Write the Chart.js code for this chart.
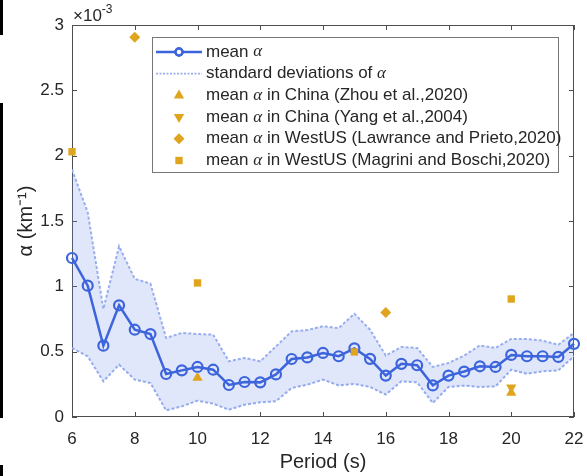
<!DOCTYPE html>
<html>
<head>
<meta charset="utf-8">
<script src="https://cdn.jsdelivr.net/npm/chart.js@4.4.1/dist/chart.umd.min.js"></script>
<style>
  html, body { margin: 0; padding: 0; background: #fff; }
  #wrap { position: relative; width: 587px; height: 476px; }
  .edge { position: absolute; left: 0; width: 3px; background: #000; }
</style>
</head>
<body>
<div id="wrap">
  <canvas id="chart" width="587" height="476"></canvas>
  <div class="edge" style="top:0;height:35px"></div>
  <div class="edge" style="top:103px;height:315px"></div>
  <div class="edge" style="top:465px;height:11px"></div>
</div>
<script>
// Periods (s) and attenuation values, in units of 1e-3 km^-1
const periods = [6, 6.5, 7, 7.5, 8, 8.5, 9, 9.5, 10, 10.5, 11, 11.5, 12, 12.5, 13, 13.5,
  14, 14.5, 15, 15.5, 16, 16.5, 17, 17.5, 18, 18.5, 19, 19.5, 20, 20.5, 21, 21.5, 22];
const meanAlpha = [1.217, 1.005, 0.546, 0.855, 0.668, 0.635, 0.329, 0.357, 0.383, 0.362, 0.245,
  0.268, 0.265, 0.326, 0.444, 0.456, 0.49, 0.465, 0.525, 0.445, 0.317, 0.407, 0.396, 0.242,
  0.317, 0.348, 0.388, 0.383, 0.475, 0.465, 0.465, 0.46, 0.56];
const upperAlpha = [1.894, 1.567, 0.827, 1.306, 1.057, 1.021, 0.605, 0.643, 0.635, 0.63, 0.426,
  0.452, 0.426, 0.54, 0.655, 0.665, 0.695, 0.68, 0.79, 0.668, 0.47, 0.536, 0.528, 0.383,
  0.413, 0.47, 0.548, 0.528, 0.597, 0.597, 0.584, 0.553, 0.643];
const lowerAlpha = [0.528, 0.464, 0.273, 0.40, 0.286, 0.26, 0.05, 0.081, 0.125, 0.102, 0.056,
  0.094, 0.112, 0.12, 0.222, 0.247, 0.286, 0.242, 0.253, 0.23, 0.171, 0.273, 0.265, 0.107,
  0.23, 0.24, 0.23, 0.234, 0.362, 0.33, 0.35, 0.357, 0.464];

// Published values
const zhouPeriods = [10, 20];
const zhouAlpha = [0.30, 0.185];
const yangPeriods = [20];
const yangAlpha = [0.226];
const lawrancePeriods = [8, 16];
const lawranceAlpha = [2.907, 0.80];
const magriniPeriods = [6, 10, 15, 20];
const magriniAlpha = [2.03, 1.026, 0.498, 0.903];

const xTicks = [6, 8, 10, 12, 14, 16, 18, 20, 22];
const yTicks = [0, 0.5, 1, 1.5, 2, 2.5, 3];

const legendLabels = [
  'mean α',
  'standard deviations of α',
  'mean α in China (Zhou et al.,2020)',
  'mean α in China (Yang et al.,2004)',
  'mean α in WestUS (Lawrance and Prieto,2020)',
  'mean α in WestUS (Magrini and Boschi,2020)'
];

const BLUE = '#3c64dc';
const BAND_LINE = '#98aeee';
const BAND_FILL = 'rgba(120, 145, 230, 0.22)';
const GOLD = '#dfa51f';
const TEXT = '#262626';
const AXIS = '#4d4d4d';
const SANS = '"Liberation Sans", Arial, sans-serif';
const SERIF = '"Liberation Serif", "DejaVu Serif", serif';

const toPoints = (xs, ys) => xs.map((x, i) => ({ x: x, y: ys[i] }));

const markerStyles = [
  { pointStyle: 'triangle', radius: 6, rotation: 0 },
  { pointStyle: 'triangle', radius: 6, rotation: 180 },
  { pointStyle: 'rectRot', radius: 5.5, rotation: 0 },
  { pointStyle: 'rect', radius: 5.2, rotation: 0 }
];

const markerSet = (xs, ys, style, order) => ({
  data: toPoints(xs, ys),
  showLine: false,
  pointStyle: style.pointStyle,
  pointRadius: style.radius,
  pointRotation: style.rotation,
  pointBackgroundColor: GOLD,
  pointBorderColor: GOLD,
  pointBorderWidth: 0,
  clip: false,
  order: order
});

// Draws a label where α is set in an italic serif face
function drawRich(ctx, text, x, y, size) {
  const parts = text.split('α');
  let cx = x;
  parts.forEach((part, i) => {
    ctx.font = size + 'px ' + SANS;
    ctx.fillText(part, cx, y);
    cx += ctx.measureText(part).width;
    if (i < parts.length - 1) {
      ctx.font = 'italic ' + size + 'px ' + SERIF;
      ctx.fillText('α', cx, y);
      cx += ctx.measureText('α').width;
    }
  });
}

const axesBox = {
  id: 'axesBox',
  beforeDatasetsDraw(chart) {
    const { ctx, chartArea: a, scales } = chart;
    ctx.save();
    ctx.strokeStyle = AXIS;
    ctx.lineWidth = 1;
    ctx.strokeRect(a.left + 0.5, a.top + 0.5, a.right - a.left - 1, a.bottom - a.top - 1);
    ctx.beginPath();
    scales.x.ticks.forEach(t => {
      const px = Math.round(scales.x.getPixelForValue(t.value)) + 0.5;
      ctx.moveTo(px, a.bottom); ctx.lineTo(px, a.bottom - 5);
      ctx.moveTo(px, a.top); ctx.lineTo(px, a.top + 5);
    });
    scales.y.ticks.forEach(t => {
      const py = Math.round(scales.y.getPixelForValue(t.value)) + 0.5;
      ctx.moveTo(a.left, py); ctx.lineTo(a.left + 5, py);
      ctx.moveTo(a.right, py); ctx.lineTo(a.right - 5, py);
    });
    ctx.stroke();
    ctx.restore();
  },
  afterDraw(chart) {
    const { ctx, chartArea: a } = chart;
    ctx.save();
    // exponent label
    ctx.fillStyle = TEXT;
    ctx.textBaseline = 'alphabetic';
    ctx.font = '17px ' + SANS;
    ctx.fillText('×10', a.left + 1, a.top - 4);
    const w = ctx.measureText('×10').width;
    ctx.font = '12px ' + SANS;
    ctx.fillText('-3', a.left + 1 + w, a.top - 12);

    // legend
    const lx = 152, ly = 37, lw = 406, lh = 135;
    ctx.fillStyle = '#fff';
    ctx.fillRect(lx, ly, lw, lh);
    ctx.strokeStyle = '#777';
    ctx.lineWidth = 1;
    ctx.strokeRect(lx + 0.5, ly + 0.5, lw, lh);
    const rowH = 21.7, sx0 = 156, sx1 = 202, mx = 179, tx = 206;
    legendLabels.forEach((label, i) => {
      const y = ly + 15 + i * rowH;
      if (i === 0) {
        ctx.strokeStyle = BLUE; ctx.lineWidth = 2.5; ctx.setLineDash([]);
        ctx.beginPath(); ctx.moveTo(sx0, y); ctx.lineTo(sx1, y); ctx.stroke();
        ctx.fillStyle = '#fff';
        Chart.helpers.drawPoint(ctx, { pointStyle: 'circle', radius: 3.5, borderWidth: 1.8, rotation: 0 }, mx, y);
        ctx.fill(); ctx.stroke();
      } else if (i === 1) {
        ctx.strokeStyle = BAND_LINE; ctx.lineWidth = 1.8; ctx.setLineDash([2, 1.5]);
        ctx.beginPath(); ctx.moveTo(sx0, y); ctx.lineTo(sx1, y); ctx.stroke();
        ctx.setLineDash([]);
      } else {
        const st = markerStyles[i - 2];
        ctx.fillStyle = GOLD; ctx.strokeStyle = GOLD; ctx.lineWidth = 0.01;
        Chart.helpers.drawPoint(ctx, { pointStyle: st.pointStyle, radius: st.radius, borderWidth: 0, rotation: st.rotation }, mx, y);
      }
      ctx.fillStyle = TEXT;
      ctx.textBaseline = 'middle';
      drawRich(ctx, label, tx, y, 17);
    });
    ctx.restore();
  }
};

new Chart(document.getElementById('chart'), {
  type: 'line',
  data: {
    datasets: [
      {
        data: toPoints(periods, lowerAlpha),
        borderColor: BAND_LINE, borderWidth: 2, borderDash: [3, 2],
        pointRadius: 0, fill: false, order: 4
      },
      {
        data: toPoints(periods, upperAlpha),
        borderColor: BAND_LINE, borderWidth: 2, borderDash: [3, 2],
        backgroundColor: BAND_FILL,
        pointRadius: 0, fill: '-1', order: 3
      },
      {
        data: toPoints(periods, meanAlpha),
        borderColor: BLUE, borderWidth: 2.5,
        pointRadius: 5, pointBorderWidth: 2.2,
        pointBorderColor: BLUE, pointBackgroundColor: 'rgba(0,0,0,0)',
        fill: false, clip: false, order: 2
      },
      markerSet(zhouPeriods, zhouAlpha, markerStyles[0], 1),
      markerSet(yangPeriods, yangAlpha, markerStyles[1], 1),
      markerSet(lawrancePeriods, lawranceAlpha, markerStyles[2], 1),
      markerSet(magriniPeriods, magriniAlpha, markerStyles[3], 1)
    ]
  },
  options: {
    responsive: false,
    animation: false,
    layout: { padding: { top: 25, right: 13, left: 0, bottom: 0 } },
    plugins: { legend: { display: false }, tooltip: { enabled: false } },
    scales: {
      x: {
        type: 'linear', min: 6, max: 22,
        afterBuildTicks: s => { s.ticks = xTicks.map(v => ({ value: v })); },
        afterFit: s => { s.height = 59; s.paddingLeft = 0; s.paddingRight = 0; },
        grid: { display: false, drawTicks: false },
        border: { display: false },
        ticks: { color: TEXT, font: { size: 17, family: SANS }, padding: 12, maxRotation: 0 },
        title: { display: true, text: 'Period (s)', color: TEXT, font: { size: 20, family: SANS }, padding: { top: 0, bottom: 2 } }
      },
      y: {
        type: 'linear', min: 0, max: 3,
        afterBuildTicks: s => { s.ticks = yTicks.map(v => ({ value: v })); },
        afterFit: s => { s.width = 72; s.paddingTop = 0; s.paddingBottom = 0; },
        grid: { display: false, drawTicks: false },
        border: { display: false },
        ticks: { color: TEXT, font: { size: 17, family: SANS }, padding: 8, callback: v => String(v) },
        title: { display: true, text: 'α (km⁻¹)', color: TEXT, font: { size: 20, family: SANS }, padding: { top: 14, bottom: 0 } }
      }
    }
  },
  plugins: [axesBox]
});
</script>
</body>
</html>
